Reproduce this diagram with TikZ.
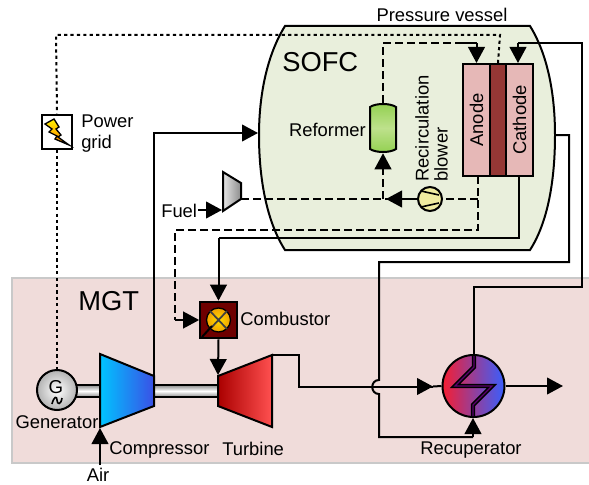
\documentclass[tikz,border=0pt]{standalone}
\usepackage{fontspec}
\setmainfont{Liberation Sans}
\usetikzlibrary{arrows.meta,shadings,calc}
\definecolor{vesselc}{HTML}{E9EFDC}
\definecolor{mgtc}{HTML}{F0DCDA}
\definecolor{mgtb}{HTML}{C9C9C9}
\definecolor{elec}{HTML}{E6B8B7}
\definecolor{memb}{HTML}{953735}
\definecolor{refa}{HTML}{92D050}
\definecolor{refb}{HTML}{BEE18C}
\definecolor{blowc}{HTML}{F0ECA0}
\definecolor{compa}{HTML}{00C4FF}
\definecolor{compb}{HTML}{3A50E6}
\definecolor{turba}{HTML}{AA0000}
\definecolor{turbb}{HTML}{FF5050}
\definecolor{combc}{HTML}{6E0000}
\definecolor{flamea}{HTML}{FFDC00}
\definecolor{flameb}{HTML}{F0A000}
\definecolor{recupa}{HTML}{F51E32}
\definecolor{recupb}{HTML}{375FFF}
\definecolor{recupz}{HTML}{5A006E}
\tikzset{
  flow/.style={line width=1.5pt,-{Triangle[length=12pt,width=12.5pt]},line join=miter},
  plain/.style={line width=1.5pt},
  dashline/.style={line width=1.5pt,dash pattern=on 6pt off 3pt},
  dotline/.style={line width=1.5pt,dash pattern=on 2.4pt off 2.4pt},
  lab/.style={font=\fontsize{13.8}{15}\selectfont,inner sep=0pt},
  big/.style={font=\fontsize{20.5}{22}\selectfont,inner sep=0pt},
  cell/.style={draw,line width=1.5pt,inner sep=0pt,minimum height=84pt,font=\fontsize{13.8}{15}\selectfont},
  shaft/.style={inner sep=0pt,draw,line width=1.5pt,top color=black!45,bottom color=black!45,middle color=white,minimum height=9pt},
}
\begin{document}
\begin{tikzpicture}[x=0.75pt,y=-0.75pt]
\useasboundingbox (0,0) rectangle (589,485);
% regions
\node[draw=mgtb,fill=mgtc,line width=1.6pt,inner sep=0pt,minimum width=440pt,minimum height=139pt,anchor=north west] (mgt) at (11,277) {};
\path[draw,fill=vesselc,line width=1.5pt] (285,26) -- (530,26) .. controls (548,55) and (555,95) .. (555,135)
  .. controls (555,180) and (548,222) .. (530,250) -- (285,250)
  .. controls (267,222) and (259,180) .. (259,135) .. controls (259,95) and (267,55) .. (285,26) -- cycle;
\coordinate (vesselL) at (258,133);
\coordinate (vesselR) at (555,135);
% cell
\node[cell,fill=elec,minimum width=20.25pt] (anode) at (476.5,120) {};
\node[cell,fill=memb,minimum width=12pt] (membr) at (498,120) {};
\node[cell,fill=elec,minimum width=20.25pt] (cathode) at (519.5,120) {};
\node[lab,rotate=90] at (anode) {Anode};
\node[lab,rotate=90] at (cathode) {Cathode};
% reformer
\path[draw,line width=1.5pt,top color=refa,bottom color=refa,middle color=refb]
  (370,107) .. controls (376,103) and (390,103) .. (396,107) -- (396,149) .. controls (390,153) and (376,153) .. (370,149) -- cycle;
\node[inner sep=0pt,minimum width=19.5pt,minimum height=37.5pt] (reformer) at (383,128) {};
% blower
\node[circle,draw,line width=1.5pt,fill=blowc,minimum size=18pt,inner sep=0pt] (blower) at (430,199) {};
\draw[line width=1.2pt] (421,191) -- (439,195) (421,207) -- (439,203);
% fuel compressor
\path[draw,line width=1.5pt,left color=black!10,right color=black!45] (223,172) -- (241,183) -- (241,199) -- (223,211) -- cycle;
\coordinate (fuelOut) at (241,199);
\coordinate (fuelIn) at (222,210);
\coordinate (fuelStart) at (198,210);
% compressor / turbine / shafts
\node[shaft,minimum width=18pt] (shaftA) at (88,391) {};
\node[shaft,minimum width=48pt] (shaftB) at (186,391) {};
\path[draw,line width=1.5pt,left color=compa,right color=compb] (100,354) -- (154,376) -- (154,406) -- (100,427) -- cycle;
\path[draw,line width=1.5pt,left color=turba,right color=turbb] (218,376) -- (272,355) -- (272,427) -- (218,406) -- cycle;
\coordinate (compIn) at (100,428);
\coordinate (compOut) at (154,376);
\coordinate (turbIn) at (218,375);
\coordinate (turbOut) at (272,355);
\coordinate (airStart) at (100,465);
% generator
\node[circle,draw,line width=1.5pt,inner color=white,outer color=black!30,minimum size=30pt,inner sep=0pt] (gen) at (57,390) {};
\node[inner sep=0pt,font=\fontsize{14}{15}\selectfont] at (56,387) {G};
\draw[line width=1.2pt] (52,404) .. controls (54,396) and (57,396) .. (57,400) .. controls (57,405) and (61,405) .. (62,398);
% combustor
\node[draw,line width=1.5pt,fill=combc,minimum size=27.5pt,inner sep=0pt] (comb) at (218.5,320) {};
\node[circle,draw=black,line width=1pt,inner color=flamea,outer color=flameb,minimum size=18pt,inner sep=0pt] (flame) at (218.5,320) {};
\draw[line width=1.3pt,black!75] (210,311) -- (227,329) (227,311) -- (210,329);
\draw[line width=1.5pt,black] (212,326) -- (202,337);
% power grid
\node[draw,line width=1.5pt,fill=white,minimum width=23pt,minimum height=25.5pt,inner sep=0pt] (grid) at (57,131.5) {};
\path[draw,line width=1pt,top color=yellow!90!orange,bottom color=orange] (45,124) -- (54,119) -- (59,127) -- (56,129) -- (61,135) -- (58,137) -- (69,145) -- (55,139) -- (57,136) -- (49,132) -- (52,129) -- cycle;
% recuperator
\node[circle,draw,line width=1.5pt,left color=recupa,right color=recupb,minimum size=46.5pt,inner sep=0pt] (recup) at (473.5,386) {};
\draw[line width=3.2pt,black,line join=miter] (474,356) -- (474,367) -- (455,386) -- (492,386) -- (473,405) -- (473,416);
\draw[line width=1pt,recupz,line join=miter] (474,356) -- (474,367) -- (455,386) -- (492,386) -- (473,405) -- (473,416);
\coordinate (recupBelow) at (473,418);
\coordinate (exitEnd) at (563,386);
% connectors
\draw[dotline] (membr.north) -- (500,35) -- (56,35) -- (grid.north);
\draw[dotline] (grid.south) -- (gen.north);
\draw[dashline] (reformer.north) -- (383,43) -- (466,43);
\coordinate (anodeTop) at (476.5,63);
\draw[plain] (462,43) -- (476.5,43);
\draw[flow] (476.5,43) -- (anodeTop);
\draw[plain] (compOut) -- (154,133) -- (200,133);
\draw[flow] (200,133) -- (vesselL);
\coordinate (cathodeB) at (519,176);
\draw[plain] (cathodeB) -- (519,238) -- (218.5,238);
\draw[flow] (218.5,238) -- (comb.north);
\coordinate (anodeB) at (478,176);
\draw[dashline] (anodeB) -- (478,230) -- (175,230) -- (175,320);
\draw[flow] (175,320) -- (comb.west);
\draw[dashline] (478,199) -- (blower.east);
\draw[dashline] (blower.west) -- (fuelOut);
\draw[flow] (blower.west) -- (386,199);
\draw[dashline] (383,199) -- (383,172);
\draw[flow] (383,172) -- (reformer.south);
\draw[flow] (fuelStart) -- (fuelIn);
\draw[flow] (comb.south) -- (turbIn);
\draw[flow] (airStart) -- (compIn);
\draw[plain] (turbOut) -- (299,355) -- (299,386.5) -- (433,386.5);
\draw[flow] (420,386.5) -- (433,386.5);
\draw[plain] (433,386.5) -- (recup.west);
\draw[flow] (recup.east) -- (exitEnd);
\draw[plain] (vesselR) -- (569,135) -- (569,262) -- (379,262) -- (379,380) .. controls (370,380) and (370,394) .. (379,394) -- (379,437) -- (473,437);
\draw[flow] (473,437) -- (recupBelow);
\draw[plain] (recup.north) -- (473.5,287) -- (582,287) -- (582,43) -- (518,43);
\draw[flow] (518,43) -- (518,63);
% labels
\node[lab,anchor=south] at (442,22) {Pressure vessel};
\node[big,anchor=west] at (282,62) {SOFC};
\node[big,anchor=west] at (78,301) {MGT};
\node[lab,anchor=east] at (366,130) {Reformer};
\node[lab,rotate=90,anchor=west] at (422,182) {Recirculation};
\node[lab,rotate=90,anchor=west] at (441,182) {blower};
\node[lab,anchor=west] at (81,121) {Power};
\node[lab,anchor=west] at (81,144) {grid};
\node[lab,anchor=west] at (161,211) {Fuel};
\node[lab,anchor=west] at (240,319) {Combustor};
\node[lab,anchor=center] at (57,422) {Generator};
\node[lab,anchor=west] at (109,450) {Compressor};
\node[lab,anchor=west] at (222,449) {Turbine};
\node[lab,anchor=center] at (98,475) {Air};
\node[lab,anchor=center] at (471,450) {Recuperator};
\end{tikzpicture}
\end{document}
